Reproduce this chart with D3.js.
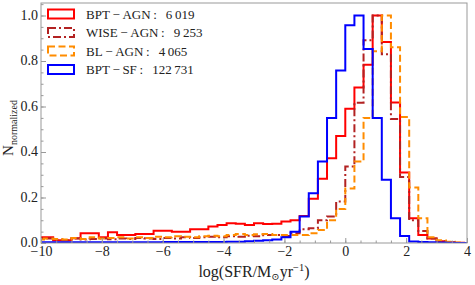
<!DOCTYPE html>
<html><head><meta charset="utf-8">
<script src="https://cdn.jsdelivr.net/npm/d3@7"></script>
<style>body{margin:0;background:#fff}svg{display:block}text{font-family:"Liberation Serif","DejaVu Serif",serif}</style>
</head><body><svg id="c" width="475" height="285"></svg>
<script>
const binEdges = [-10.2,-9.9,-9.6,-9.3,-9.0,-8.7,-8.4,-8.1,-7.8,-7.5,-7.2,-6.9,-6.6,-6.3,-6.0,-5.7,-5.4,-5.1,-4.8,-4.5,-4.2,-3.9,-3.6,-3.3,-3.0,-2.7,-2.4,-2.1,-1.8,-1.5,-1.2,-0.9,-0.6,-0.3,0.0,0.3,0.6,0.9,1.2,1.5,1.8,2.1,2.4,2.7,3.0,3.3,3.6,3.9,4.2];
const bptAgn = [0.025,0.025,0.012,0.012,0.021,0.043,0.043,0.025,0.047,0.035,0.035,0.040,0.040,0.054,0.054,0.050,0.050,0.060,0.060,0.072,0.079,0.087,0.085,0.079,0.087,0.083,0.085,0.095,0.100,0.119,0.194,0.282,0.373,0.470,0.590,0.684,0.784,1.000,0.884,0.618,0.310,0.109,0.035,0.020,0.008,0.003,0.001,0];
const wiseAgn = [0.020,0.020,0.015,0.012,0.020,0.015,0.018,0.020,0.016,0.020,0.018,0.022,0.020,0.018,0.022,0.020,0.025,0.022,0.025,0.028,0.025,0.030,0.028,0.032,0.030,0.035,0.035,0.031,0.043,0.060,0.065,0.100,0.116,0.182,0.336,0.617,0.891,1.000,0.830,0.545,0.290,0.100,0.053,0.020,0.008,0.003,0,0];
const blAgn = [0.015,0.020,0.018,0.015,0.022,0.018,0.025,0.020,0.022,0.025,0.020,0.025,0.022,0.028,0.025,0.030,0.028,0.025,0.030,0.032,0.030,0.035,0.040,0.035,0.038,0.040,0.035,0.035,0.035,0.035,0.043,0.057,0.100,0.150,0.240,0.358,0.550,0.843,1.000,0.860,0.554,0.244,0.109,0.025,0.012,0.006,0.002,0];
const bptSf = [0.003,0.003,0.003,0.003,0.003,0.003,0.003,0.003,0.003,0.003,0.003,0.003,0.003,0.003,0.004,0.004,0.004,0.004,0.004,0.004,0.004,0.006,0.006,0.008,0.010,0.012,0.015,0.025,0.050,0.116,0.219,0.358,0.549,0.758,0.957,1.000,0.853,0.549,0.278,0.109,0.031,0.007,0.004,0.003,0.002,0.001,0,0];
const seriesNames = ["BPT\u2009−\u2009AGN\u2009:\u2002\u20096\u2009019","WISE\u2009−\u2009AGN\u2009:\u2002\u20099\u2009253","BL\u2009−\u2009AGN\u2009:\u2002\u20094\u2009065","BPT\u2009−\u2009SF\u2009:\u2002\u2009122\u2009731"];
const seriesColors = ["#ff0000","#b22222","#ff8c00","#0000ff"];
const seriesDash = [null,"8,3,2,3","7,3.5",null];
const xTicks = [-10,-8,-6,-4,-2,0,2,4];
const yTicks = [0.0,0.2,0.4,0.6,0.8,1.0];
const xMinor = d3.range(-10,4.01,0.5);
const yMinor = d3.range(0,1.051,0.05);

const svg = d3.select("#c");
const L=41,R=467,T=3,B=243;
const x = d3.scaleLinear().domain([-10,4]).range([L,R]);
const y = d3.scaleLinear().domain([0,1.055]).range([B,T]);
const gray="#999";

svg.append("defs").append("clipPath").attr("id","pc").append("rect")
  .attr("x",L).attr("y",T).attr("width",R-L).attr("height",B-T);

const data=[bptAgn,wiseAgn,blAgn,bptSf];
const line=d3.line().x(d=>x(d[0])).y(d=>y(d[1]));
const g=svg.append("g").attr("clip-path","url(#pc)");
data.forEach((vals,k)=>{
  const pts=[[binEdges[0],0]];
  vals.forEach((v,i)=>{pts.push([binEdges[i],v]);pts.push([binEdges[i+1],v]);});
  pts.push([binEdges[binEdges.length-1],0]);
  g.append("path").attr("d",line(pts)).attr("fill","none")
   .attr("stroke",seriesColors[k]).attr("stroke-width",2)
   .attr("stroke-linejoin","miter")
   .attr("stroke-dasharray",seriesDash[k]);
});

function styleAxis(sel){sel.select(".domain").remove();sel.selectAll("line").attr("stroke",gray);
  sel.selectAll("text").attr("fill","#222").attr("font-family","Liberation Serif, serif");}
const xa=svg.append("g").attr("transform",`translate(0,${B})`)
  .call(d3.axisBottom(x).tickValues(xMinor).tickSize(-2.5).tickFormat(""));
styleAxis(xa);
const xA=svg.append("g").attr("transform",`translate(0,${B})`)
  .call(d3.axisBottom(x).tickValues(xTicks).tickSize(-5).tickPadding(2).tickFormat(d3.format("d")));
styleAxis(xA); xA.selectAll("text").attr("font-size",14).attr("dy","0.82em");
const ya=svg.append("g").attr("transform",`translate(${L},0)`)
  .call(d3.axisLeft(y).tickValues(yMinor).tickSize(-2.5).tickFormat(""));
styleAxis(ya);
const yA=svg.append("g").attr("transform",`translate(${L},0)`)
  .call(d3.axisLeft(y).tickValues(yTicks).tickSize(-5).tickPadding(3).tickFormat(d3.format(".1f")));
styleAxis(yA); yA.selectAll("text").attr("font-size",14).attr("dy","0.28em");

svg.append("rect").attr("x",L).attr("y",T).attr("width",R-L).attr("height",B-T)
  .attr("fill","none").attr("stroke",gray).attr("stroke-width",1);

const xl=svg.append("text").attr("x",254).attr("y",277).attr("text-anchor","middle").attr("font-size",16).attr("fill","#222");
xl.append("tspan").text("log(SFR/M");
xl.append("tspan").text("⊙").attr("font-size",10).attr("dy",3);
xl.append("tspan").text("yr").attr("dy",-3);
xl.append("tspan").text("−1").attr("font-size",10.5).attr("dy",-6);
xl.append("tspan").text(")").attr("dy",6);

const yl=svg.append("text").attr("transform","translate(13,128) rotate(-90)").attr("text-anchor","middle").attr("font-size",15).attr("fill","#222");
yl.append("tspan").text("N");
yl.append("tspan").text("normalized").attr("font-size",10).attr("dy",4);

const lg=svg.append("g");
seriesNames.forEach((n,k)=>{
  const cy=14+k*18.5;
  lg.append("rect").attr("x",48).attr("y",cy-4.5).attr("width",26).attr("height",9)
    .attr("fill","none").attr("stroke",seriesColors[k]).attr("stroke-width",2)
    .attr("stroke-dasharray",seriesDash[k]);
  lg.append("text").attr("x",86).attr("y",cy+4.5).attr("font-size",13).attr("fill","#222").text(n);
});
</script></body></html>
